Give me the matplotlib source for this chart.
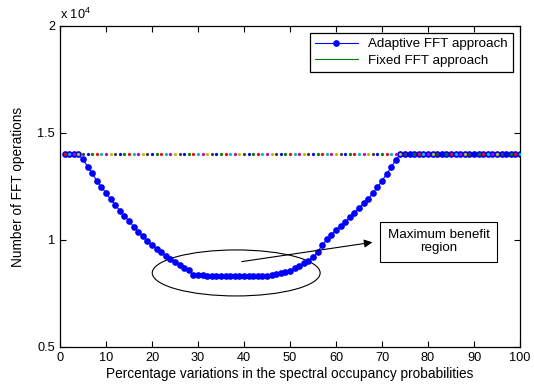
import matplotlib
matplotlib.use('Agg')
import matplotlib.pyplot as plt
from matplotlib.patches import Ellipse
from matplotlib.lines import Line2D

plt.rcParams['font.family'] = ['Liberation Sans', 'DejaVu Sans']
plt.rcParams['mathtext.default'] = 'regular'

# percentage variation (x) and number of FFT operations
variation = list(range(1, 101))
adaptive_ffts = [14000, 14000, 14000, 14000, 13770, 13430, 13120, 12760, 12460, 12210,
                 11900, 11640, 11370, 11120, 10900, 10620, 10370, 10190, 9950, 9780,
                 9590, 9440, 9240, 9100, 8960, 8820, 8690, 8600, 8380, 8360,
                 8350, 8340, 8330, 8320, 8310, 8300, 8300, 8300, 8300, 8300,
                 8300, 8310, 8310, 8320, 8330, 8350, 8400, 8470, 8520, 8570,
                 8680, 8790, 8910, 9030, 9190, 9450, 9750, 10030, 10250, 10470,
                 10650, 10850, 11060, 11280, 11510, 11710, 11900, 12210, 12460, 12770,
                 13080, 13400, 13750, 14000, 14000, 14000, 14000, 14000, 14000, 14000,
                 14000, 14000, 14000, 14000, 14000, 14000, 14000, 14000, 14000, 14000,
                 14000, 14000, 14000, 14000, 14000, 14000, 14000, 14000, 14000, 14000]
fixed_ffts = [14000] * 100

xticks = [0, 10, 20, 30, 40, 50, 60, 70, 80, 90, 100]
yticks = [5000, 10000, 15000, 20000]
ytick_labels = ['0.5', '1', '1.5', '2']

# old matlab color order
matlab_colors = [(0, 0, 1), (0, 0.5, 0), (1, 0, 0), (0, 0.75, 0.75),
                 (0.75, 0, 0.75), (0.75, 0.75, 0), (0.25, 0.25, 0.25)]

fig = plt.figure(figsize=(5.34, 3.84), dpi=100)
ax = fig.add_axes([0.1124, 0.0964, 0.8614, 0.8359])

ax.plot(variation, adaptive_ffts, color='b', lw=0.8, marker='o', ms=3.8,
        mec='b', mfc='b', zorder=2)
for x, y in zip(variation, fixed_ffts):
    ax.plot(x, y, 'o', ms=2.3, mew=0, color=matlab_colors[(x + 1) % 7], zorder=3)

ax.add_patch(Ellipse((38.3, 8460), 36.5, 2150, fill=False, lw=0.8, color='k'))
ax.annotate('', xy=(68.5, 9910), xytext=(38.9, 8970),
            arrowprops=dict(arrowstyle='-|>', color='k', lw=0.8, mutation_scale=12))
ax.text(82.3, 9910, 'Maximum benefit\nregion', ha='center', va='center', fontsize=9.6,
        linespacing=1.1,
        bbox=dict(boxstyle='square,pad=0.55', fc='white', ec='k', lw=0.8))

ax.set_xlim(0, 100)
ax.set_ylim(5000, 20000)
ax.set_xticks(xticks)
ax.set_yticks(yticks)
ax.set_yticklabels(ytick_labels)
ax.tick_params(direction='in', top=True, right=True, labelsize=9.2, length=4, width=0.8)
for s in ax.spines.values():
    s.set_linewidth(0.9)
ax.text(0, 1.012, 'x 10$^{4}$', transform=ax.transAxes, fontsize=9.2, ha='left', va='bottom')

ax.set_xlabel('Percentage variations in the spectral occupancy probabilities', fontsize=9.8, labelpad=2)
ax.set_ylabel('Number of FFT operations', fontsize=9.8, labelpad=9)

handles = [Line2D([], [], color='b', lw=0.8, marker='o', ms=3.8),
           Line2D([], [], color=(0, 0.5, 0), lw=0.8)]
leg = ax.legend(handles, ['Adaptive FFT approach', 'Fixed FFT approach'], loc='upper right',
                fontsize=9.6, fancybox=False, framealpha=1, edgecolor='k',
                borderaxespad=0.5, handlelength=3.2, labelspacing=0.3)
leg.get_frame().set_linewidth(0.9)

fig.savefig('out.png', dpi=100)
